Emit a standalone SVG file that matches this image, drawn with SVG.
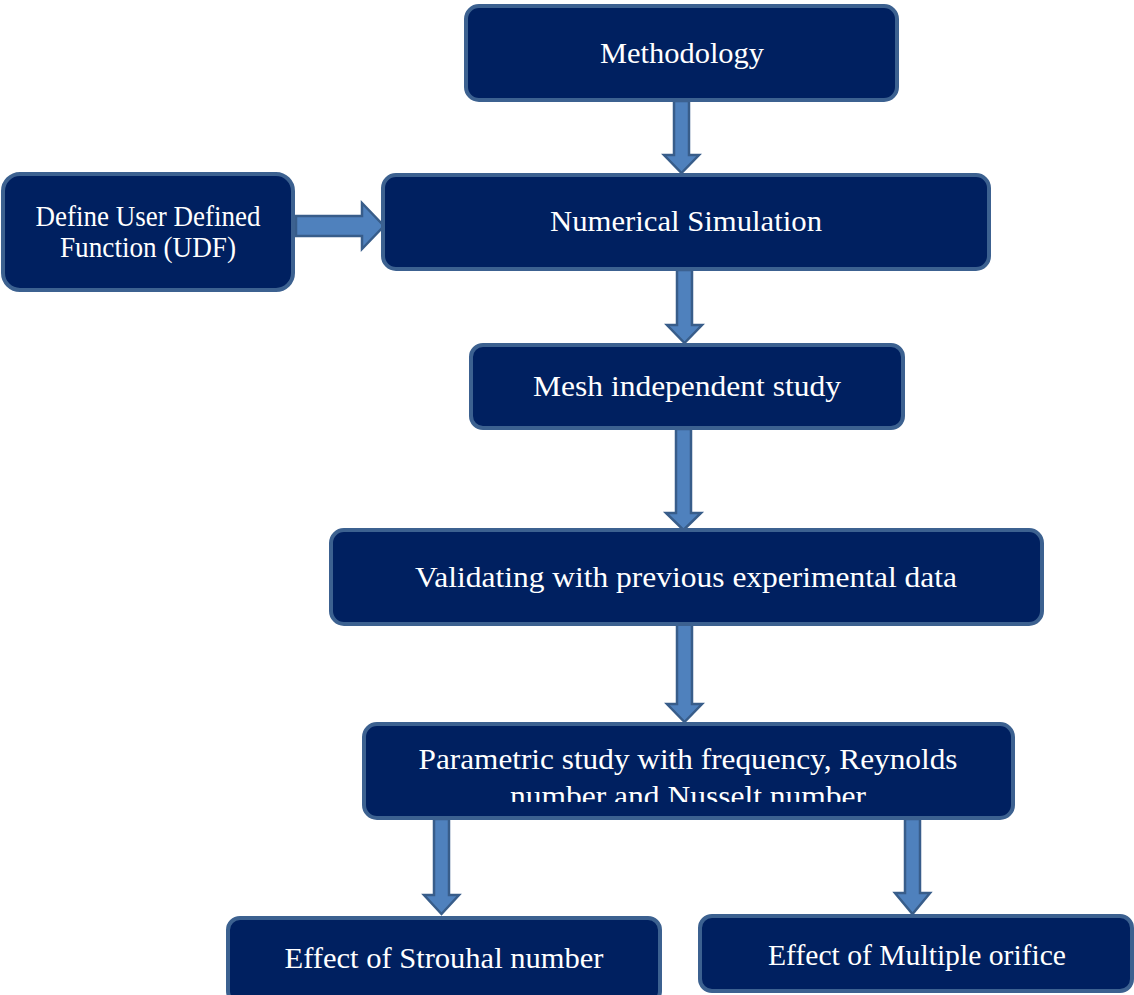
<svg xmlns="http://www.w3.org/2000/svg" width="1134" height="995" viewBox="0 0 1134 995">
<style>
.box{fill:#002060;stroke:#3c6190;stroke-width:4}
.arr{fill:#4f81bd;stroke:#385d8a;stroke-width:2.5}
.t{font-family:"Liberation Serif","DejaVu Serif",serif;font-size:28.5px;fill:#ffffff}
</style>
<defs>
<clipPath id="pclip"><rect x="364" y="724" width="650" height="78"/></clipPath>
</defs>
<rect width="1134" height="995" fill="#ffffff"/>
<g id="connectors">
<path class="arr" d="M674,101 H689 V155 H699 L681.5,173 L664,155 H674 Z"/>
<path class="arr" d="M677,270 H692 V325 H702 L684.5,343 L667,325 H677 Z"/>
<path class="arr" d="M676,429 H691 V513 H701 L683.5,530 L666,513 H676 Z"/>
<path class="arr" d="M677,624 H692 V704 H702 L684.5,722 L667,704 H677 Z"/>
<path class="arr" d="M434,819 H449 V895 H459 L441.5,914 L424,895 H434 Z"/>
<path class="arr" d="M905,819 H920 V893 H930 L912.5,914 L895,893 H905 Z"/>
<path class="arr" d="M296,216 H362 V203 L384,226 L362,249 V236 H296 Z"/>
</g>
<g id="methodology">
<rect class="box" x="466" y="6" width="431" height="94" rx="13"/>
<text class="t" x="682" y="63" text-anchor="middle" textLength="164" lengthAdjust="spacingAndGlyphs">Methodology</text>
</g>
<g id="numerical">
<rect class="box" x="383" y="175" width="606" height="94" rx="13"/>
<text class="t" x="686" y="231" text-anchor="middle" textLength="272" lengthAdjust="spacingAndGlyphs">Numerical Simulation</text>
</g>
<g id="udf">
<rect class="box" x="3" y="174" width="290" height="116" rx="17"/>
<text class="t" x="148" y="226" text-anchor="middle" font-size="26" textLength="225" lengthAdjust="spacingAndGlyphs">Define User Defined</text>
<text class="t" x="148" y="257" text-anchor="middle" font-size="26" textLength="176" lengthAdjust="spacingAndGlyphs">Function (UDF)</text>
</g>
<g id="mesh">
<rect class="box" x="471" y="345" width="432" height="83" rx="12"/>
<text class="t" x="687" y="396" text-anchor="middle" textLength="308" lengthAdjust="spacingAndGlyphs">Mesh independent study</text>
</g>
<g id="validating">
<rect class="box" x="331" y="530" width="711" height="94" rx="13"/>
<text class="t" x="686" y="587" text-anchor="middle" textLength="542" lengthAdjust="spacingAndGlyphs">Validating with previous experimental data</text>
</g>
<g id="parametric">
<rect class="box" x="364" y="724" width="649" height="94" rx="13"/>
<text class="t" x="688" y="769" text-anchor="middle" textLength="539" lengthAdjust="spacingAndGlyphs">Parametric study with frequency, Reynolds</text>
<text class="t" x="688" y="806" text-anchor="middle" textLength="356" lengthAdjust="spacingAndGlyphs" clip-path="url(#pclip)">number and Nusselt number</text>
</g>
<g id="strouhal">
<rect class="box" x="228" y="918" width="432" height="85" rx="12"/>
<text class="t" x="444" y="968" text-anchor="middle" textLength="319" lengthAdjust="spacingAndGlyphs">Effect of Strouhal number</text>
</g>
<g id="multiple">
<rect class="box" x="700" y="916" width="432" height="75" rx="12"/>
<text class="t" x="917" y="965" text-anchor="middle" textLength="298" lengthAdjust="spacingAndGlyphs">Effect of Multiple orifice</text>
</g>
</svg>
